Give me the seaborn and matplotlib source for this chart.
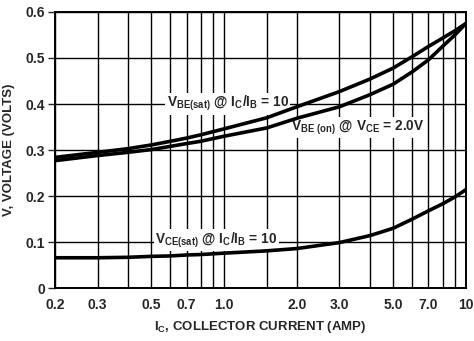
import matplotlib
matplotlib.use("Agg")
import matplotlib.pyplot as plt
import seaborn as sns
import pandas as pd

# collector current (A)
ic = [0.2, 0.3, 0.4, 0.5, 0.6, 0.7, 0.8, 1.0, 1.5, 2.0, 3.0, 4.0, 5.0, 6.0, 7.0, 8.0, 9.0, 10.0]
vbe_sat = [0.284, 0.295, 0.303, 0.311, 0.319, 0.326, 0.333, 0.346, 0.370, 0.394, 0.427, 0.454, 0.478, 0.503, 0.525, 0.543, 0.559, 0.575]
vbe_on = [0.277, 0.288, 0.295, 0.301, 0.308, 0.314, 0.319, 0.330, 0.348, 0.369, 0.394, 0.420, 0.443, 0.470, 0.496, 0.525, 0.550, 0.575]
vce_sat = [0.066, 0.066, 0.067, 0.069, 0.070, 0.072, 0.073, 0.076, 0.081, 0.086, 0.099, 0.114, 0.130, 0.150, 0.168, 0.183, 0.198, 0.214]

x_grid = [0.2, 0.3, 0.4, 0.5, 0.6, 0.7, 0.8, 0.9, 1.0, 1.5, 2.0, 3.0, 4.0, 5.0, 6.0, 7.0, 8.0, 9.0, 10.0]
x_labels = {0.2: "0.2", 0.3: "0.3", 0.5: "0.5", 0.7: "0.7", 1.0: "1.0", 2.0: "2.0",
            3.0: "3.0", 5.0: "5.0", 7.0: "7.0", 10.0: "10"}
y_ticks = [0, 0.1, 0.2, 0.3, 0.4, 0.5, 0.6]
y_labels = ["0", "0.1", "0.2", "0.3", "0.4", "0.5", "0.6"]

sns.set_theme(style="ticks")
plt.rcParams["font.family"] = ["Liberation Sans Narrow", "Liberation Sans", "DejaVu Sans"]
plt.rcParams["font.weight"] = "bold"
plt.rcParams["axes.labelweight"] = "bold"
plt.rcParams["mathtext.default"] = "regular"

fig = plt.figure(figsize=(4.74, 3.41), dpi=100)
ax = fig.add_axes([0.116, 0.155, 0.867, 0.81])

df = pd.DataFrame({"ic": ic, "vbe_sat": vbe_sat, "vbe_on": vbe_on, "vce_sat": vce_sat})
for col in ["vbe_sat", "vbe_on", "vce_sat"]:
    sns.lineplot(data=df, x="ic", y=col, color="black", lw=2.6, ax=ax, zorder=3)

ax.set_xscale("log")
ax.set_xlim(0.2, 10)
ax.set_ylim(0, 0.6)
ax.set_xticks(x_grid)
ax.set_xticklabels([x_labels.get(v, "") for v in x_grid])
ax.xaxis.set_minor_locator(matplotlib.ticker.NullLocator())
ax.set_yticks(y_ticks)
ax.set_yticklabels(y_labels)
ax.grid(True, color="black", lw=1.0)
ax.tick_params(axis="x", length=0, pad=7, labelsize=10)
ax.tick_params(axis="y", length=5, width=1, pad=2, labelsize=10)
for s in ax.spines.values():
    s.set_linewidth(1.4)
    s.set_color("black")

ax.set_xlabel(r"I$_{C}$, COLLECTOR CURRENT (AMP)", fontsize=9.5, labelpad=5)
ax.set_ylabel("V, VOLTAGE (VOLTS)", fontsize=9.5, labelpad=8)

# white boxes break the grid lines behind the labels, curves stay on top
box = dict(facecolor="white", edgecolor="none", pad=1.0)
ax.text(0.58, 0.401, r"V$_{BE(sat)}$ @ I$_{C}$/I$_{B}$ = 10", fontsize=9.8,
        va="center", ha="left", bbox=box, zorder=2.5)
ax.text(1.90, 0.348, r"V$_{BE\ (on)}$ @ V$_{CE}$ = 2.0V", fontsize=9.8,
        va="center", ha="left", bbox=box, zorder=2.5)
ax.text(0.52, 0.104, r"V$_{CE(sat)}$ @ I$_{C}$/I$_{B}$ = 10", fontsize=9.8,
        va="center", ha="left", bbox=box, zorder=2.5)

fig.savefig("out.png", dpi=100)
